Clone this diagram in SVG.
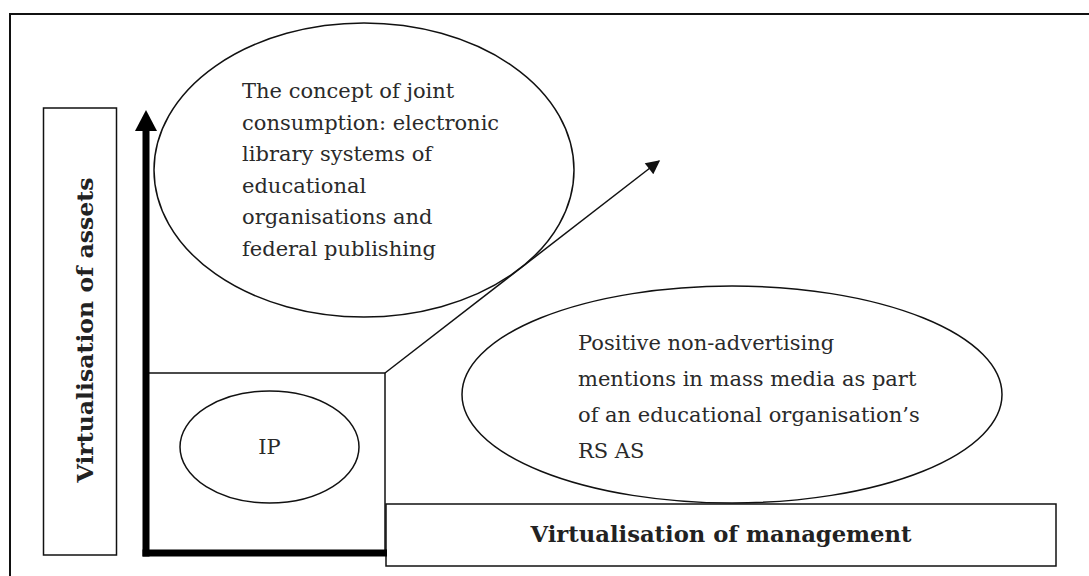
<svg xmlns="http://www.w3.org/2000/svg" width="1089" height="576" viewBox="0 0 1089 576">
  <style>
    .shape { fill: none; stroke: #111; stroke-width: 1.5; }
    .box { fill: #fff; stroke: #111; stroke-width: 1.5; }
    .txt { font-family: "DejaVu Serif", "Liberation Serif", serif; font-size: 21px; fill: #2a2a2a; }
    .bold { font-family: "DejaVu Serif", "Liberation Serif", serif; font-size: 23px; font-weight: bold; fill: #222; }
  </style>
  <defs>
    <marker id="arrowThin" viewBox="0 0 10 10" refX="9" refY="5" markerWidth="16" markerHeight="14" markerUnits="userSpaceOnUse" orient="auto">
      <path d="M0,0 L10,5 L0,10 Z" fill="#111"/>
    </marker>
  </defs>
  <rect x="0" y="0" width="1089" height="576" fill="#fff"/>
  <rect id="frame" x="10" y="14" width="1100" height="600" fill="none" stroke="#111" stroke-width="2"/>

  <g id="assets-label">
    <rect class="box" x="43.5" y="108" width="73" height="447"/>
    <text class="bold" transform="translate(93,330) rotate(-90)" text-anchor="middle" textLength="305" lengthAdjust="spacingAndGlyphs">Virtualisation of assets</text>
  </g>

  <g id="ip-square">
    <rect class="shape" x="146" y="373" width="239" height="180"/>
  </g>

  <g id="joint-consumption">
    <ellipse class="shape" cx="364" cy="170" rx="210" ry="147" fill="#fff"/>
    <text class="txt" x="242">
      <tspan x="242" y="98">The concept of joint</tspan>
      <tspan x="242" y="129.5">consumption: electronic</tspan>
      <tspan x="242" y="161">library systems of</tspan>
      <tspan x="242" y="192.5">educational</tspan>
      <tspan x="242" y="224">organisations and</tspan>
      <tspan x="242" y="255.5">federal publishing</tspan>
    </text>
  </g>

  <g id="ip">
    <ellipse class="shape" cx="269.5" cy="447" rx="89.5" ry="56"/>
    <text class="txt" x="269.5" y="454" text-anchor="middle">IP</text>
  </g>

  <g id="mass-media">
    <ellipse class="shape" cx="732" cy="394.5" rx="270" ry="108.5"/>
    <text class="txt">
      <tspan x="578" y="350">Positive non-advertising</tspan>
      <tspan x="578" y="386">mentions in mass media as part</tspan>
      <tspan x="578" y="422">of an educational organisation’s</tspan>
      <tspan x="578" y="458">RS AS</tspan>
    </text>
  </g>

  <g id="management-label">
    <rect class="box" x="386" y="504" width="670" height="62" stroke-width="2"/>
    <text class="bold" x="721" y="542" text-anchor="middle" textLength="381" lengthAdjust="spacingAndGlyphs">Virtualisation of management</text>
  </g>

  <g id="connectors">
    <line x1="146" y1="556.5" x2="146" y2="128" stroke="#000" stroke-width="7"/>
    <polygon points="146,110 135,131 157,131" fill="#000"/>
    <line x1="142.5" y1="553" x2="387" y2="553" stroke="#000" stroke-width="7"/>
    <line x1="385" y1="373" x2="659" y2="161" stroke="#111" stroke-width="1.5" marker-end="url(#arrowThin)"/>
  </g>
</svg>
